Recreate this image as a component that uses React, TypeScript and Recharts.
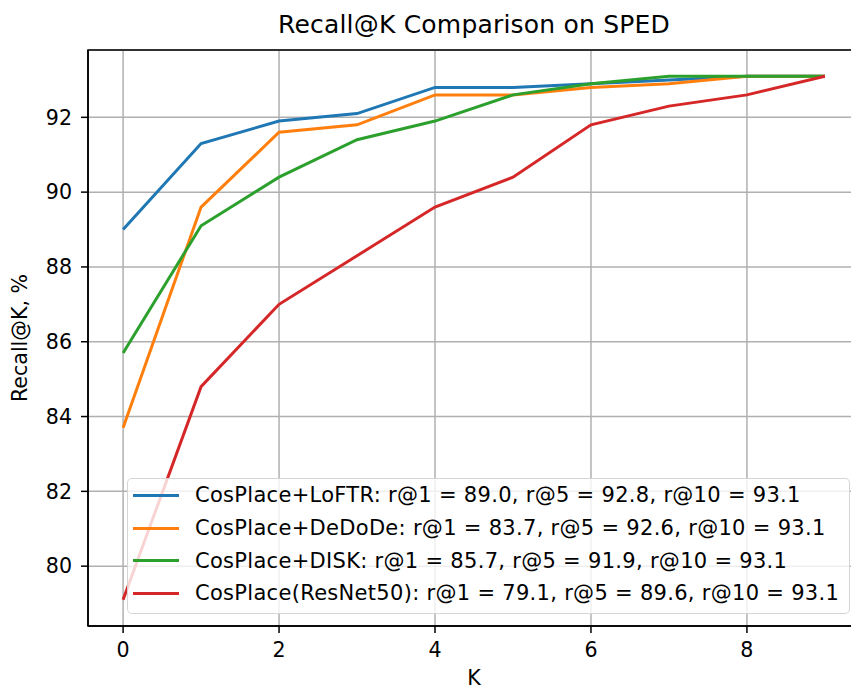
import { CartesianGrid, Legend, Line, LineChart, ReferenceArea, XAxis, YAxis } from 'recharts';

const kValues = [0, 1, 2, 3, 4, 5, 6, 7, 8, 9];
const loftr = [89.0, 91.3, 91.9, 92.1, 92.8, 92.8, 92.9, 93.0, 93.1, 93.1];
const dedode = [83.7, 89.6, 91.6, 91.8, 92.6, 92.6, 92.8, 92.9, 93.1, 93.1];
const disk = [85.7, 89.1, 90.4, 91.4, 91.9, 92.6, 92.9, 93.1, 93.1, 93.1];
const resnet = [79.1, 84.8, 87.0, 88.3, 89.6, 90.4, 91.8, 92.3, 92.6, 93.1];

const xTicks = [0, 2, 4, 6, 8];
const yTicks = [80, 82, 84, 86, 88, 90, 92];

const series = [
  { key: 'loftr', label: 'CosPlace+LoFTR: r@1 = 89.0, r@5 = 92.8, r@10 = 93.1', color: '#1f77b4' },
  { key: 'dedode', label: 'CosPlace+DeDoDe: r@1 = 83.7, r@5 = 92.6, r@10 = 93.1', color: '#ff7f0e' },
  { key: 'disk', label: 'CosPlace+DISK: r@1 = 85.7, r@5 = 91.9, r@10 = 93.1', color: '#2ca02c' },
  { key: 'resnet', label: 'CosPlace(ResNet50): r@1 = 79.1, r@5 = 89.6, r@10 = 93.1', color: '#d62728' },
];

const data = kValues.map((k, i) => ({
  k,
  loftr: loftr[i],
  dedode: dedode[i],
  disk: disk[i],
  resnet: resnet[i],
}));

const font = '"DejaVu Sans", sans-serif';
const X_DOMAIN: [number, number] = [-0.45, 9.45];
const Y_DOMAIN: [number, number] = [78.4, 93.8];

function LegendBox() {
  return (
    <div
      style={{
        boxSizing: 'border-box',
        width: 723,
        height: 136,
        background: 'rgba(255,255,255,0.8)',
        border: '1.5px solid rgba(204,204,204,0.8)',
        borderRadius: 5,
        paddingTop: 0,
        fontFamily: font,
        fontSize: 21,
        letterSpacing: 0.3,
        color: '#000',
      }}
    >
      {series.map((s) => (
        <div key={s.key} style={{ display: 'flex', alignItems: 'center', height: 32.7 }}>
          <div style={{ marginLeft: 5, width: 46, height: 3, background: s.color }} />
          <span style={{ marginLeft: 16, whiteSpace: 'nowrap' }}>{s.label}</span>
        </div>
      ))}
    </div>
  );
}

export default function App() {
  return (
    <div
      style={{
        position: 'absolute',
        left: 0,
        top: 0,
        width: 851,
        height: 689,
        overflow: 'hidden',
        background: '#fff',
        fontFamily: font,
      }}
    >
      <div
        style={{
          position: 'absolute',
          left: 224,
          width: 500,
          top: 10,
          textAlign: 'center',
          fontSize: 25,
          letterSpacing: 0.2,
          lineHeight: '30px',
          color: '#000',
        }}
      >
        Recall@K Comparison on SPED
      </div>
      <div
        style={{
          position: 'absolute',
          left: 20,
          top: 338,
          transform: 'translate(-50%, -50%) rotate(-90deg)',
          fontSize: 20.6,
          lineHeight: '22px',
          whiteSpace: 'nowrap',
          color: '#000',
        }}
      >
        Recall@K, %
      </div>
      <div
        style={{
          position: 'absolute',
          left: 474,
          top: 678,
          transform: 'translate(-50%, -50%)',
          fontSize: 20.6,
          lineHeight: '14px',
          color: '#000',
        }}
      >
        K
      </div>
      <LineChart width={880} height={689} data={data} margin={{ top: 50, right: 20, bottom: 0, left: 0 }}>
        <CartesianGrid stroke="#b0b0b0" strokeWidth={1.5} />
        <XAxis
          dataKey="k"
          type="number"
          domain={X_DOMAIN}
          ticks={xTicks}
          allowDataOverflow
          height={63}
          tickSize={7}
          tickMargin={9}
          stroke="#000"
          strokeWidth={1.5}
          tick={{ fill: '#000', fontSize: 20.6, fontFamily: font }}
        />
        <YAxis
          type="number"
          domain={Y_DOMAIN}
          ticks={yTicks}
          allowDataOverflow
          width={88}
          tickSize={7}
          tickMargin={9}
          stroke="#000"
          strokeWidth={1.5}
          tick={{ fill: '#000', fontSize: 20.6, fontFamily: font }}
        />
        <ReferenceArea
          x1={X_DOMAIN[0]}
          x2={X_DOMAIN[1]}
          y1={Y_DOMAIN[0]}
          y2={Y_DOMAIN[1]}
          fill="none"
          stroke="#000"
          strokeWidth={1.5}
          ifOverflow="visible"
        />
        {series.map((s) => (
          <Line
            key={s.key}
            dataKey={s.key}
            name={s.label}
            stroke={s.color}
            strokeWidth={3}
            dot={false}
            activeDot={false}
            type="linear"
            isAnimationActive={false}
          />
        ))}
        <Legend
          layout="horizontal"
          verticalAlign="middle"
          align="center"
          content={() => <LegendBox />}
          wrapperStyle={{ position: 'absolute', left: 127, top: 478, width: 723, height: 136 }}
        />
      </LineChart>
    </div>
  );
}
